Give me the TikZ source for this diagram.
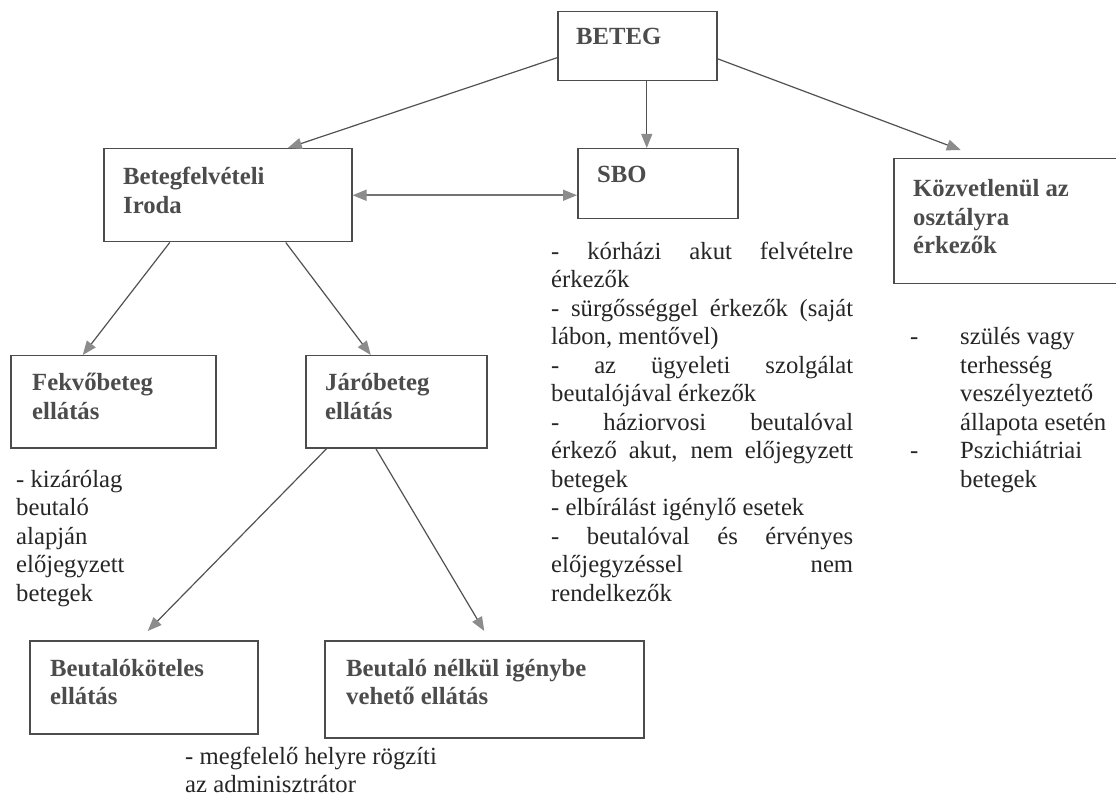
\documentclass[tikz,border=0pt]{standalone}
\usepackage{fontspec}
\setmainfont{Liberation Serif}
\usetikzlibrary{arrows.meta}
\newcommand\sbojust[1]{\makebox[302pt][s]{#1}}
\begin{document}
\begin{tikzpicture}[x=1pt,y=-1pt,
  box/.style={draw=black!70, line width=1.5pt, inner sep=0pt, anchor=north west},
  btxt/.style={font=\fontsize{24.7}{28.5}\selectfont\bfseries, text=black!70, inner sep=0pt, anchor=base west, align=left},
  ltxt/.style={font=\fontsize{24.7}{28.5}\selectfont, text=black!85, inner sep=0pt, anchor=base west, align=left},
  tip/.style={Triangle[length=14pt,width=11pt,color=black!45]},
  conn/.style={draw=black!68, line width=1.2pt, -{Triangle[length=14pt,width=11pt,color=black!45]}},
  conntwo/.style={draw=black!55, line width=1.5pt, {Triangle[length=14pt,width=11pt,color=black!45]}-{Triangle[length=14pt,width=11pt,color=black!45]}},
]
\useasboundingbox[fill=white] (0,0) rectangle (1116,799);

% boxes
\node[box, minimum width=159pt, minimum height=69pt] (beteg) at (557,11) {};
\node[box, minimum width=248pt, minimum height=93pt] (befel) at (103,148) {};
\node[box, minimum width=160pt, minimum height=70pt] (sbo) at (577,148) {};
\node[box, minimum width=240pt, minimum height=125pt] (kozv) at (893,158) {};
\node[box, minimum width=205pt, minimum height=92pt] (fekvo) at (10,355) {};
\node[box, minimum width=181pt, minimum height=92pt] (jaro) at (305,355) {};
\node[box, minimum width=228pt, minimum height=93pt] (bk) at (29,640) {};
\node[box, minimum width=319pt, minimum height=97pt] (bn) at (324,640) {};

% box texts (anchor = baseline of the last line)
\node[btxt] (tbeteg) at (576,45) {BETEG};
\node[btxt] (tbefel) at (123,213.5) {Betegfelvételi\\Iroda};
\node[btxt] (tsbo) at (597,183) {SBO};
\node[btxt] (tkozv) at (913,254) {Közvetlenül az\\osztályra\\érkezők};
\node[btxt] (tfekvo) at (32,419.5) {Fekvőbeteg\\ellátás};
\node[btxt] (tjaro) at (325,419.5) {Járóbeteg\\ellátás};
\node[btxt] (tbk) at (50,704.5) {Beutalóköteles\\ellátás};
\node[btxt] (tbn) at (346,704.5) {Beutaló nélkül igénybe\\vehető ellátás};

% connectors
\draw[conn] ([yshift=-11.5pt]beteg.west) -- ([xshift=60pt]befel.north);
\draw[conn] ([xshift=9.5pt]beteg.south) -- ([xshift=-11pt]sbo.north);
\draw[conn] ([yshift=-12.5pt]beteg.east) -- ([xshift=-53pt,yshift=8pt]kozv.north);
\draw[conntwo] (befel.east) -- (befel.east -| sbo.west);
\draw[conn] ([xshift=-58pt]befel.south) -- ([xshift=-30.5pt]fekvo.north);
\draw[conn] ([xshift=58pt]befel.south) -- ([xshift=-25.5pt]jaro.north);
\draw[conn] ([xshift=-69.5pt]jaro.south) -- ([xshift=4pt,yshift=9pt]bk.north);
\draw[conn] ([xshift=-20.5pt]jaro.south) -- ([yshift=9pt]bn.north);

% list texts
\node[ltxt] (lsbo) at (551,601) {%
\sbojust{- kórházi akut felvételre}\\
érkezők\\
\sbojust{- sürgősséggel érkezők (saját}\\
lábon, mentővel)\\
\sbojust{- az ügyeleti szolgálat}\\
beutalójával érkezők\\
\sbojust{- háziorvosi beutalóval}\\
\sbojust{érkező akut, nem előjegyzett}\\
betegek\\
- elbírálást igénylő esetek\\
\sbojust{- beutalóval és érvényes}\\
\sbojust{előjegyzéssel nem}\\
rendelkezők};

\node[ltxt] (lfekvo) at (16,601) {- kizárólag\\beutaló\\alapján\\előjegyzett\\betegek};

\node[ltxt] (dashone) at (910,344.5) {-};
\node[ltxt] (dashtwo) at (910,458.5) {-};
\node[ltxt] (lkozv) at (960,487) {szülés vagy\\terhesség\\veszélyeztető\\állapota esetén\\Pszichiátriai\\betegek};

\node[ltxt] (ladmin) at (185,792.5) {- megfelelő helyre rögzíti\\az adminisztrátor};
\end{tikzpicture}
\end{document}
